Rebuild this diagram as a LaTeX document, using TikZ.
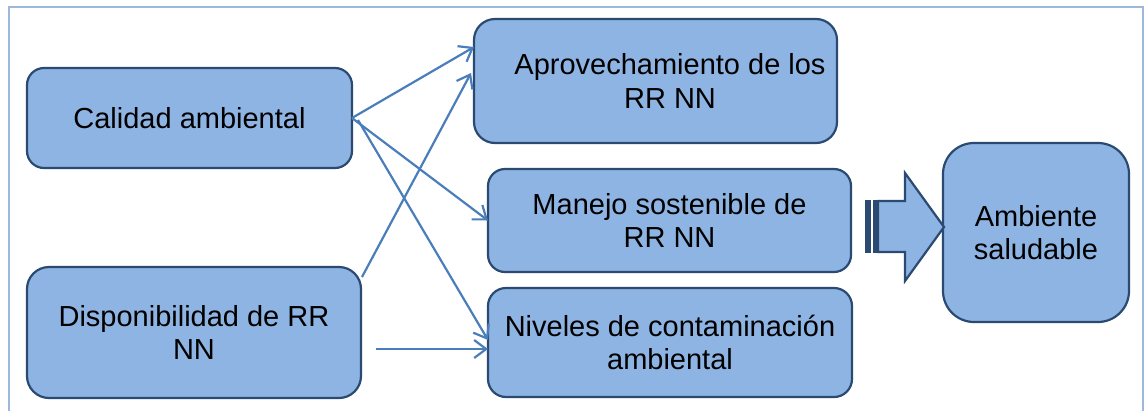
\documentclass[tikz,border=0pt]{standalone}
\usepackage{fontspec}
\setmainfont{Liberation Sans}
\usetikzlibrary{arrows.meta,calc}
\definecolor{boxfill}{HTML}{8EB4E3}
\definecolor{boxedge}{HTML}{2A4A72}
\definecolor{linkcol}{HTML}{4A7EBB}
\definecolor{framecol}{HTML}{9DB8DC}
\begin{document}
\begin{tikzpicture}[x=1pt,y=-1pt,
  box/.style={draw=boxedge, fill=boxfill, line width=2.2pt, inner sep=0pt, outer sep=0pt,
    align=center, font=\fontsize{29}{33.5}\selectfont, text=black},
  txt/.style={inner sep=0pt, align=center, font=\fontsize{29}{33.5}\selectfont, text=black},
  link/.style={draw=linkcol, line width=2.2pt, -{Straight Barb[length=12pt,width=18pt]}},
  bigarrow/.style={draw=boxedge, fill=boxfill, line width=2.2pt, line join=miter}]
\path[use as bounding box] (0,0) rectangle (1148,410);
\draw[framecol, line width=2pt] (9,7) rectangle (1143,430);

\node[box, minimum width=325pt, minimum height=100pt, rounded corners=17pt] (cal) at (189.5,118) {Calidad ambiental};
\node[box, minimum width=334pt, minimum height=131pt, rounded corners=22pt] (dis) at (194,332.5) {Disponibilidad de RR\\NN};
\node[box, minimum width=363pt, minimum height=124pt, rounded corners=21pt] (apr) at (655.5,81) {};
\node[txt] (aprT) at (670,81) {Aprovechamiento de los\\RR NN};
\node[box, minimum width=363pt, minimum height=103pt, rounded corners=17pt] (man) at (669.5,220.5) {Manejo sostenible de\\RR NN};
\node[box, minimum width=364pt, minimum height=109pt, rounded corners=18pt] (niv) at (670,342.5) {Niveles de contaminación\\ambiental};
\node[box, minimum width=186pt, minimum height=179pt, rounded corners=31pt] (amb) at (1036,232.5) {Ambiente\\saludable};

\draw[link] (cal.east) -- ([yshift=34pt]apr.west);
\draw[link] (cal.east) -- (man.west);
\draw[link] ([xshift=6pt,yshift=-2pt]cal.east) -- ([yshift=2.5pt]niv.west);
\draw[link] ($(dis.north east)+(1,10)$) -- ([xshift=-3pt,yshift=8pt]apr.west);
\coordinate (h1) at (376,349);
\draw[link] (h1) -- (h1 -| niv.west);

% striped block arrow
\filldraw[bigarrow, fill=boxedge] (866.5,201) rectangle (869.5,252);
\filldraw[bigarrow] (874.5,201) rectangle (876,252);
\filldraw[bigarrow] (878,201) -- (905,201) -- (905,173) -- (944,227) -- (905,281) -- (905,252) -- (878,252) -- cycle;
\end{tikzpicture}
\end{document}
